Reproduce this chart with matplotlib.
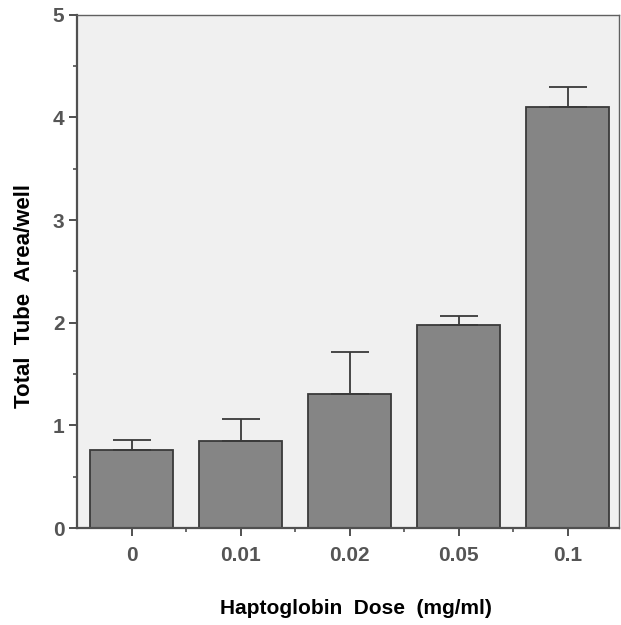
import matplotlib.pyplot as plt
from matplotlib.ticker import MultipleLocator, FixedLocator

doses = ['0', '0.01', '0.02', '0.05', '0.1']
tube_area = [0.76, 0.845, 1.305, 1.975, 4.10]
tube_err = [0.10, 0.22, 0.41, 0.09, 0.20]

plt.rcParams['font.family'] = ['Liberation Sans', 'DejaVu Sans']

fig = plt.figure(figsize=(6.21, 6.25), dpi=100)
ax = fig.add_axes([0.124, 0.155, 0.873, 0.8215])
ax.set_facecolor('#f0f0f0')

x = range(len(doses))
ax.bar(x, tube_area, width=0.76, color='#858585', edgecolor='#3a3a3a',
       linewidth=1.3, zorder=2)
ax.errorbar(x, tube_area, yerr=[[0] * len(doses), tube_err], fmt='none',
            ecolor='#3a3a3a', elinewidth=1.3, capsize=14, capthick=1.3, zorder=3)

ax.set_xlim(-0.5, 4.47)
ax.set_ylim(0, 5)
ax.set_xticks(list(x))
ax.set_xticklabels(doses)
ax.xaxis.set_minor_locator(FixedLocator([0.5, 1.5, 2.5, 3.5]))
ax.yaxis.set_major_locator(MultipleLocator(1))
ax.yaxis.set_minor_locator(MultipleLocator(0.5))

for side in ['left', 'bottom']:
    ax.spines[side].set_linewidth(1.6)
    ax.spines[side].set_color('#505050')
for side in ['top', 'right']:
    ax.spines[side].set_linewidth(1.0)
    ax.spines[side].set_color('#606060')

ax.tick_params(axis='both', which='major', length=6, width=1.4, color='#505050',
               labelsize=15, labelcolor='#555555')
ax.tick_params(axis='y', which='major', pad=3)
ax.tick_params(axis='x', which='major', pad=7)
ax.tick_params(axis='both', which='minor', length=3, width=1.2, color='#505050')
for lab in ax.get_xticklabels() + ax.get_yticklabels():
    lab.set_fontweight('bold')

fig.text(0.04, 0.526, 'Total  Tube  Area/well', fontsize=16, fontweight='bold',
         rotation=90, ha='center', va='center')
fig.text(0.573, 0.027, 'Haptoglobin  Dose  (mg/ml)', fontsize=15, fontweight='bold',
         ha='center', va='center')

fig.savefig('out.png', dpi=100)
